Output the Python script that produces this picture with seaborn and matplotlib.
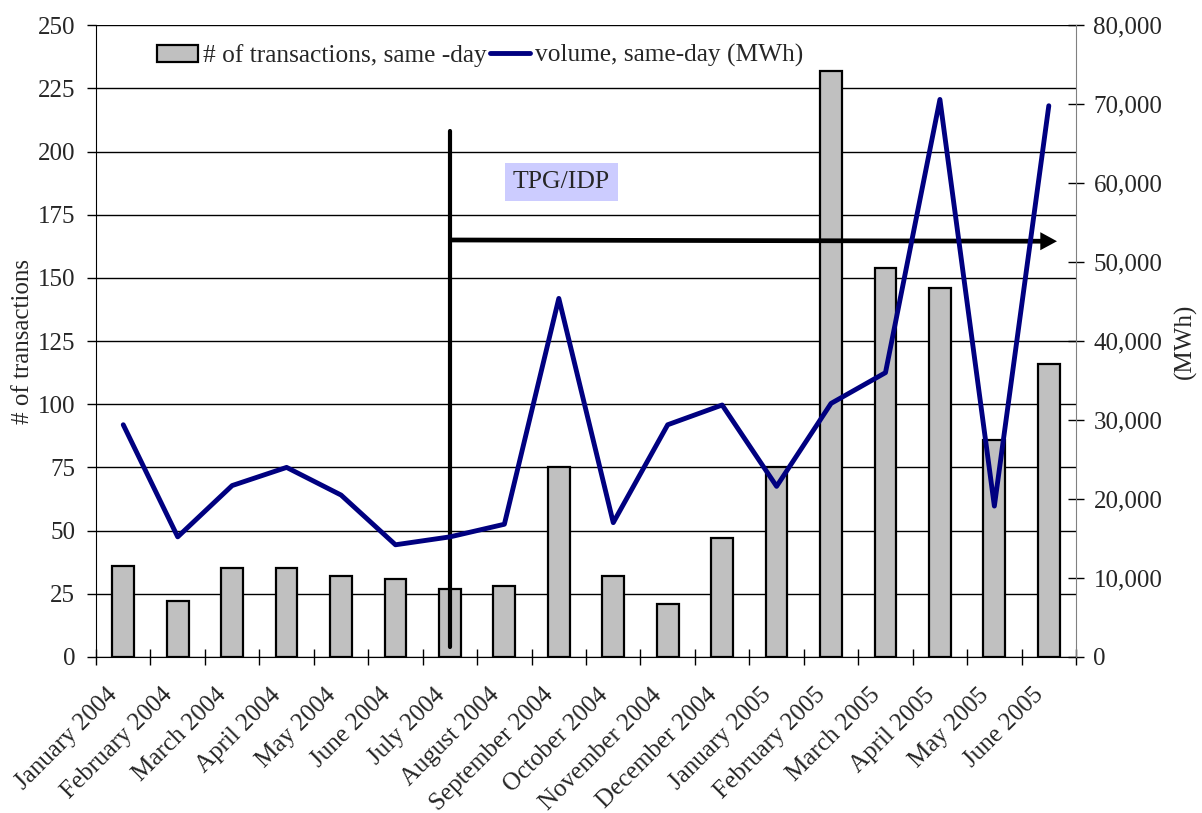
import numpy as np
import pandas as pd
import matplotlib
matplotlib.use("Agg")
import matplotlib.pyplot as plt
import matplotlib.transforms as mtransforms
import seaborn as sns
from matplotlib.lines import Line2D
from matplotlib.patches import Patch
from matplotlib.ticker import FuncFormatter, MultipleLocator

# data
months = ["January 2004", "February 2004", "March 2004", "April 2004", "May 2004",
          "June 2004", "July 2004", "August 2004", "September 2004", "October 2004",
          "November 2004", "December 2004", "January 2005", "February 2005",
          "March 2005", "April 2005", "May 2005", "June 2005"]
transactions = [36, 22, 35, 35, 32, 31, 27, 28, 75, 32, 21, 47, 75, 232, 154, 146, 86, 116]
volume_mwh = [29400, 15200, 21700, 24000, 20500, 14200, 15200, 16800, 45400, 17000,
              29400, 31900, 21600, 32100, 36000, 70600, 19100, 69800]

# TPG/IDP marker (category index / left-axis units)
tpg_x = 6.0
tpg_top, tpg_bottom = 208, 4
arrow_y0, arrow_y1 = 165, 164.5
arrow_end = 17.15
tpg_label_x, tpg_label_y = 8.05, 188

df = pd.DataFrame({"month": months, "transactions": transactions, "volume": volume_mwh})

sns.set_style("white")
plt.rcParams["font.family"] = ["Liberation Serif", "DejaVu Serif"]
plt.rcParams["font.size"] = 18

fig = plt.figure(figsize=(12.02, 8.13), dpi=100)
ax = fig.add_axes([0.0799, 0.192, 0.8153, 0.777])

sns.barplot(data=df, x="month", y="transactions", color="#C0C0C0", saturation=1,
            edgecolor="black", linewidth=1.6, width=0.4, ax=ax, zorder=2)
ax.set_ylim(0, 250)
ax.set_xlim(-0.5, len(months) - 0.5)
ax.yaxis.set_major_locator(MultipleLocator(25))
ax.grid(axis="y", color="black", linewidth=1.0, zorder=0)
ax.set_axisbelow(True)

# category boundaries carry the ticks, centres carry the labels
ax.set_xticks(np.arange(-0.5, len(months)), labels=[""] * (len(months) + 1))
ax.set_xticks(np.arange(len(months)), labels=months, minor=True)
ax.tick_params(axis="x", which="major", bottom=True, direction="inout", length=11,
               width=1, color="black")
ax.tick_params(axis="x", which="minor", bottom=False, length=0, pad=19.5, labelsize=18)
shift = mtransforms.ScaledTranslation(-12 / 72, 0, fig.dpi_scale_trans)
for lab in ax.get_xticklabels(minor=True):
    lab.set_rotation(45)
    lab.set_ha("right")
    lab.set_rotation_mode("anchor")
    lab.set_transform(lab.get_transform() + shift)
ax.tick_params(axis="y", left=True, direction="out", length=6.5, width=1, color="black",
               labelsize=18, pad=8.5)
ax.set_xlabel("")
ax.set_ylabel("# of transactions", fontsize=18, labelpad=3)
for s in ["top", "right"]:
    ax.spines[s].set_visible(False)
ax.spines["left"].set_color("black")
ax.spines["bottom"].set_color("black")

ax2 = ax.twinx()
sns.lineplot(x=np.arange(len(months)), y=df["volume"], color="#000080", linewidth=3.5,
             ax=ax2, zorder=5)
ax2.set_ylim(0, 80000)
ax2.yaxis.set_major_locator(MultipleLocator(10000))
ax2.yaxis.set_major_formatter(FuncFormatter(lambda v, p: f"{int(v):,}"))
ax2.tick_params(axis="y", right=True, direction="inout", length=11, width=1, color="black",
                labelsize=18, pad=7)
ax2.set_ylabel("(MWh)", fontsize=18, rotation=90, labelpad=8)
ax2.grid(False)
for s in ["top", "left", "bottom"]:
    ax2.spines[s].set_visible(False)
ax2.spines["right"].set_color("#808080")
ax2.set_xlim(-0.5, len(months) - 0.5)

# TPG/IDP annotation
ax2.plot([tpg_x, tpg_x], [tpg_top, tpg_bottom], color="black", linewidth=3.0,
         transform=ax.transData, zorder=3)
ax2.annotate("", xy=(arrow_end, arrow_y1), xytext=(tpg_x, arrow_y0),
             xycoords=ax.transData, textcoords=ax.transData,
             arrowprops=dict(width=3.4, headwidth=13, headlength=12,
                             facecolor="black", edgecolor="none", shrink=0),
             zorder=3)
ax2.text(tpg_label_x, tpg_label_y, "TPG/IDP", transform=ax.transData, fontsize=18.5,
         ha="center", va="center", zorder=4,
         bbox=dict(boxstyle="square,pad=0.3", facecolor="#CCCCFF", edgecolor="none"))

handles = [Patch(facecolor="#C0C0C0", edgecolor="black", linewidth=1.6),
           Line2D([], [], color="#000080", linewidth=3.5)]
fig.legend(handles, ["# of transactions, same -day", "volume, same-day (MWh)"],
           loc="upper left", bbox_to_anchor=(0.112, 0.974), ncol=2, frameon=False,
           fontsize=18.3, handlelength=1.6, handletextpad=0.2, columnspacing=0.1,
           handleheight=0.65)

fig.savefig("out.png", dpi=100)
